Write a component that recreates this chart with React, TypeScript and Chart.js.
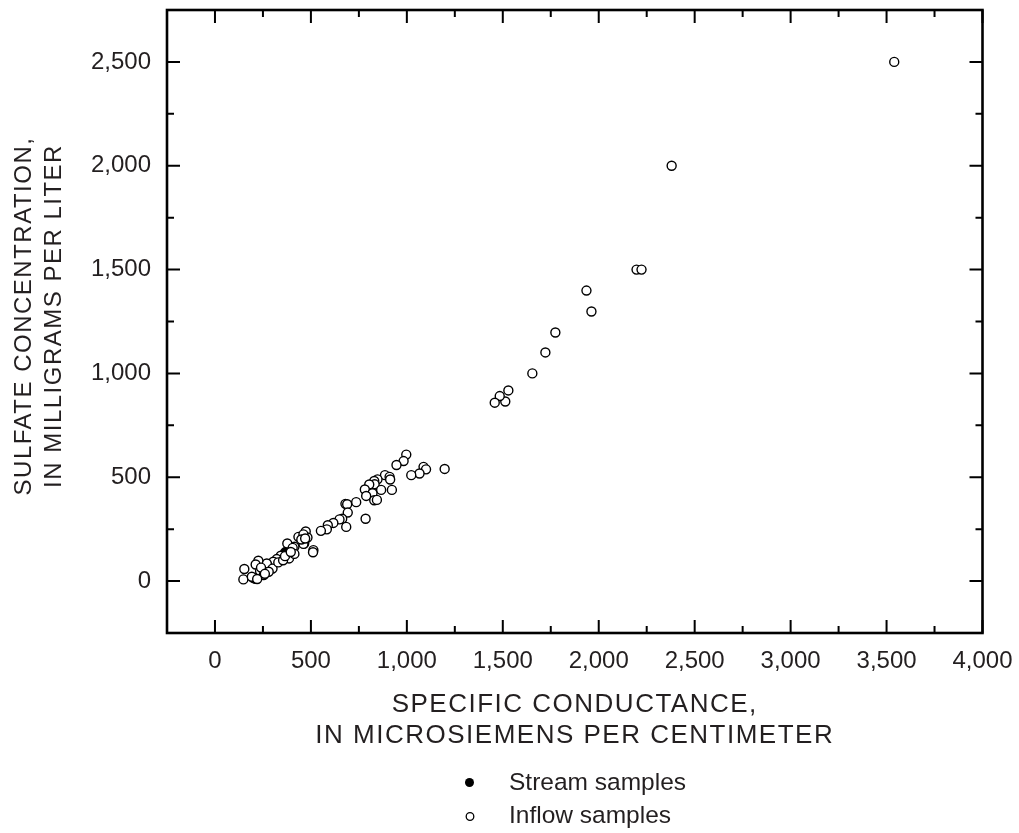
import React, { useEffect, useRef } from 'react';
import { Chart, registerables } from 'chart.js';

Chart.register(...registerables);

// ---- data ----
const xTickValues = [0, 500, 1000, 1500, 2000, 2500, 3000, 3500, 4000];
const xTickLabels = ['0', '500', '1,000', '1,500', '2,000', '2,500', '3,000', '3,500', '4,000'];
const xMinorTicks = [250, 750, 1250, 1750, 2250, 2750, 3250, 3750];
const yTickValues = [0, 500, 1000, 1500, 2000, 2500];
const yTickLabels = ['0', '500', '1,000', '1,500', '2,000', '2,500'];
const yMinorTicks = [250, 750, 1250, 1750, 2250];

const xTitleLines = ['SPECIFIC CONDUCTANCE,', 'IN MICROSIEMENS PER CENTIMETER'];
const yTitleLines = ['SULFATE CONCENTRATION,', 'IN MILLIGRAMS PER LITER'];
const legendLabels = ['Stream samples', 'Inflow samples'];

const streamX = [200, 210, 225, 265, 300, 340, 365, 380];
const streamY = [13, 10, 20, 55, 80, 110, 140, 130];

const inflowX = [
  3540, 2380, 2197, 2223, 1936, 1962, 1774, 1722, 1654, 1529, 1513, 1484, 1458,
  1197, 997, 983, 946, 1087, 1100, 1066, 1023, 886, 910, 913, 847, 830, 832, 804,
  866, 922, 781, 821, 788, 830, 844, 736, 680, 689, 692, 663, 785, 684, 649, 617,
  588, 583, 552, 473, 482, 465, 513,
  435, 461, 461, 511, 414, 377, 405, 386, 414, 343, 322, 304, 275, 270, 226, 212,
  235, 254, 153, 148, 192,
  300, 330, 355, 280, 240, 260, 220, 365, 395, 450, 470,
];
const inflowY = [
  2500, 2000, 1500, 1500, 1399, 1298, 1197, 1101, 1000, 918, 865, 891, 859,
  540, 609, 578, 559, 550, 538, 518, 510, 510, 502, 489, 490, 482, 466, 465,
  439, 439, 441, 423, 410, 389, 391, 380, 372, 370, 330, 300, 300, 261, 297, 280,
  269, 249, 242, 239, 210, 181, 149,
  213, 225, 179, 139, 165, 181, 160, 109, 131, 122, 106, 93, 74, 85, 98, 80,
  48, 29, 58, 8, 21,
  60, 90, 100, 45, 65, 35, 10, 120, 140, 200, 205,
];

const FONT = '"Liberation Sans", Arial, Helvetica, sans-serif';
const INK = '#231f20';

const framePlugin = {
  id: 'frameAndText',
  afterDraw(chart: any) {
    const ctx: CanvasRenderingContext2D = chart.ctx;
    const { left, right, top, bottom } = chart.chartArea;
    const xs = chart.scales.x;
    const ys = chart.scales.y;
    ctx.save();
    ctx.strokeStyle = '#000';
    // ticks
    ctx.lineWidth = 2;
    const majorLen = 13;
    const minorLen = 7;
    ctx.beginPath();
    xTickValues.forEach((v) => {
      const p = xs.getPixelForValue(v);
      ctx.moveTo(p, bottom); ctx.lineTo(p, bottom - majorLen);
      ctx.moveTo(p, top); ctx.lineTo(p, top + majorLen);
    });
    xMinorTicks.forEach((v) => {
      const p = xs.getPixelForValue(v);
      ctx.moveTo(p, bottom); ctx.lineTo(p, bottom - minorLen);
      ctx.moveTo(p, top); ctx.lineTo(p, top + minorLen);
    });
    yTickValues.forEach((v) => {
      const p = ys.getPixelForValue(v);
      ctx.moveTo(left, p); ctx.lineTo(left + majorLen, p);
      ctx.moveTo(right, p); ctx.lineTo(right - majorLen, p);
    });
    yMinorTicks.forEach((v) => {
      const p = ys.getPixelForValue(v);
      ctx.moveTo(left, p); ctx.lineTo(left + minorLen, p);
      ctx.moveTo(right, p); ctx.lineTo(right - minorLen, p);
    });
    ctx.stroke();
    // frame
    ctx.lineWidth = 2.6;
    ctx.strokeRect(left, top, right - left, bottom - top);

    // axis titles
    ctx.fillStyle = INK;
    ctx.textBaseline = 'middle';
    ctx.textAlign = 'center';
    ctx.font = `26px ${FONT}`;
    (ctx as any).letterSpacing = '1.5px';
    const cx = (left + right) / 2;
    ctx.fillText(xTitleLines[0], cx, 704.5);
    ctx.fillText(xTitleLines[1], cx, 735.5);

    ctx.font = `24px ${FONT}`;
    (ctx as any).letterSpacing = '1.5px';
    ctx.save();
    ctx.translate(24, 316);
    ctx.rotate(-Math.PI / 2);
    ctx.fillText(yTitleLines[0], 0, 0);
    ctx.restore();
    ctx.save();
    ctx.translate(54.5, 316);
    ctx.rotate(-Math.PI / 2);
    ctx.fillText(yTitleLines[1], 0, 0);
    ctx.restore();

    // legend
    (ctx as any).letterSpacing = '0px';
    ctx.font = `24.5px ${FONT}`;
    ctx.textAlign = 'left';
    ctx.fillStyle = '#000';
    ctx.beginPath();
    ctx.arc(469.5, 782.5, 4.5, 0, Math.PI * 2);
    ctx.fill();
    ctx.beginPath();
    ctx.lineWidth = 1.3;
    ctx.arc(470, 816.5, 3.8, 0, Math.PI * 2);
    ctx.stroke();
    ctx.fillStyle = INK;
    ctx.fillText(legendLabels[0], 509, 783);
    ctx.fillText(legendLabels[1], 509, 816.5);
    ctx.restore();
  },
};

export default function App() {
  const ref = useRef<HTMLCanvasElement>(null);
  useEffect(() => {
    if (!ref.current) return;
    const chart = new Chart(ref.current, {
      type: 'scatter',
      data: {
        datasets: [
          {
            label: legendLabels[1],
            data: inflowX.map((x, i) => ({ x, y: inflowY[i] })),
            pointStyle: 'circle',
            pointRadius: 4.5,
            pointBackgroundColor: '#ffffff',
            pointBorderColor: '#000000',
            pointBorderWidth: 1.4,
            order: 0,
          },
          {
            label: legendLabels[0],
            data: streamX.map((x, i) => ({ x, y: streamY[i] })),
            pointStyle: 'circle',
            pointRadius: 4.5,
            pointBackgroundColor: '#000000',
            pointBorderColor: '#000000',
            pointBorderWidth: 1,
            order: 1,
          },
        ],
      },
      options: {
        responsive: false,
        animation: false,
        devicePixelRatio: 1,
        layout: { padding: { top: 10, right: 36.5, left: 0, bottom: 0 } },
        plugins: { legend: { display: false }, tooltip: { enabled: false } },
        scales: {
          x: {
            type: 'linear',
            min: -250,
            max: 4000,
            grid: { display: false, drawTicks: false },
            border: { display: false },
            afterBuildTicks: (s: any) => {
              s.ticks = xTickValues.map((v) => ({ value: v }));
            },
            afterFit: (s: any) => {
              s.height = 200;
              s.paddingLeft = 0;
              s.paddingRight = 0;
            },
            ticks: {
              padding: 14,
              maxRotation: 0,
              autoSkip: false,
              color: INK,
              font: { family: FONT, size: 24 },
              callback: (v: any) => xTickLabels[xTickValues.indexOf(Number(v))] ?? '',
            },
          },
          y: {
            type: 'linear',
            min: -250,
            max: 2750,
            grid: { display: false, drawTicks: false },
            border: { display: false },
            afterBuildTicks: (s: any) => {
              s.ticks = yTickValues.map((v) => ({ value: v }));
            },
            afterFit: (s: any) => {
              s.width = 167;
              s.paddingTop = 0;
              s.paddingBottom = 0;
            },
            ticks: {
              padding: 16,
              autoSkip: false,
              color: INK,
              font: { family: FONT, size: 24 },
              callback: (v: any) => yTickLabels[yTickValues.indexOf(Number(v))] ?? '',
            },
          },
        },
      },
      plugins: [framePlugin],
    });
    return () => chart.destroy();
  }, []);
  return (
    <div style={{ position: 'absolute', left: 0, top: 0, width: 1019, height: 833 }}>
      <canvas ref={ref} width={1019} height={833} />
    </div>
  );
}
